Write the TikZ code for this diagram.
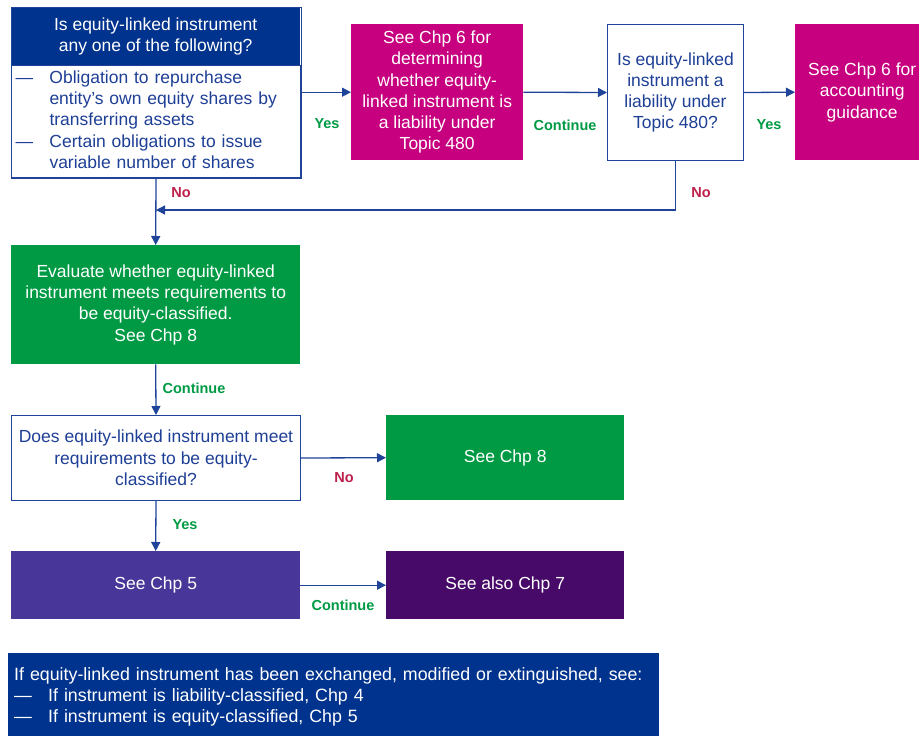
\documentclass[tikz,border=0pt]{standalone}
\usepackage{fontspec}
\setmainfont{Liberation Sans}
\usetikzlibrary{arrows.meta}
\definecolor{kblue}{HTML}{00338D}
\definecolor{ktext}{HTML}{1E3F96}
\definecolor{kline}{HTML}{1E4399}
\definecolor{kmag}{HTML}{C6007E}
\definecolor{kgreen}{HTML}{009A44}
\definecolor{kpurple}{HTML}{483698}
\definecolor{kdpurple}{HTML}{470A68}
\definecolor{kred}{HTML}{BC204B}
\begin{document}
\begin{tikzpicture}[x=1pt,y=-1pt,
  box/.style={rectangle, inner sep=0pt, anchor=north west, align=center,
    font=\fontsize{17.5}{21.3}\selectfont},
  solidbox/.style={box, fill=#1, text=white},
  openbox/.style={box, draw=kline, line width=1pt, fill=white, text=ktext},
  arr/.style={draw=kline, line width=1.3pt, -{Triangle[length=9pt,width=9pt]}},
  lbl/.style={font=\fontsize{14.5}{17}\selectfont\bfseries, inner sep=0pt},
  yes/.style={lbl, text=kgreen},
  no/.style={lbl, text=kred}]
\useasboundingbox (0,0) rectangle (919,736);
\clip (0,0) rectangle (919,736);

% first question: header and list of cases
\node[solidbox=kblue, minimum width=289pt, minimum height=58pt] (q1head) at (11,7)
  {Is equity-linked instrument\\any one of the following?};
\node[openbox, minimum width=289pt, minimum height=112pt, align=left,
  text width=285pt, inner xsep=2pt] (q1) at (11,65)
  {\begin{tabular}{@{}p{36pt}@{}l@{}}
   \hspace*{2pt}— & Obligation to repurchase\\
       & entity’s own equity shares by\\
       & transferring assets\\
   \hspace*{2pt}— & Certain obligations to issue\\
       & variable number of shares
   \end{tabular}};
\draw[kline, line width=1pt] (q1head.north west) rectangle (q1.south east);

% top row
\node[solidbox=kmag, minimum width=172pt, minimum height=136pt] (ch6a) at (351,24)
  {See Chp 6 for\\determining\\whether equity-\\linked instrument is\\a liability under\\Topic 480};
\node[openbox, minimum width=136pt, minimum height=136pt] (q2) at (607,24)
  {Is equity-linked\\instrument a\\liability under\\Topic 480?};
\node[solidbox=kmag, minimum width=134pt, minimum height=136pt] (ch6b) at (795,24)
  {See Chp 6 for\\accounting\\guidance};

% left column
\node[solidbox=kgreen, minimum width=289pt, minimum height=119pt] (eval) at (11,245)
  {Evaluate whether equity-linked\\instrument meets requirements to\\be equity-classified.\\See Chp 8};
\node[openbox, minimum width=289pt, minimum height=85pt] (q3) at (11,415)
  {Does equity-linked instrument meet\\requirements to be equity-\\classified?};
\node[solidbox=kgreen, minimum width=238pt, minimum height=85pt] (ch8) at (386,415)
  {See Chp 8};
\node[solidbox=kpurple, minimum width=289pt, minimum height=68pt] (ch5) at (11,551)
  {See Chp 5};
\node[solidbox=kdpurple, minimum width=238pt, minimum height=68pt] (ch7) at (386,551)
  {See also Chp 7};

% closing note
\node[solidbox=kblue, minimum width=651pt, minimum height=90pt, align=left,
  text width=639pt, inner xsep=6pt, font=\fontsize{17.8}{21.3}\selectfont] (note) at (8,653)
  {\begin{tabular}{@{}p{34pt}@{}l@{}}
   \multicolumn{2}{@{}l@{}}{If equity-linked instrument has been exchanged, modified or extinguished, see:}\\
   — & If instrument is liability-classified, Chp 4\\
   — & If instrument is equity-classified, Chp 5\\[2pt]
   \end{tabular}};

% connectors
\coordinate (merge) at (q1.south |- 0,210);
\draw[arr] (ch6a.west -| q1.east) -- (ch6a.west);
\draw[arr] (ch6a.east) -- (q2.west);
\draw[arr] (q2.east) -- (ch6b.west);
\draw[arr] (q1.south) -- (eval.north);
\draw[arr] (q2.south) |- (merge);
\draw[arr] (eval.south) -- (q3.north);
\draw[arr] (q3.east) -- (ch8.west);
\draw[arr] (q3.south) -- (ch5.north);
\draw[arr] (ch5.east) -- (ch7.west);

% connector labels
\node[yes] (l1) at (327,124) {Yes};
\node[yes] (l2) at (565,125) {Continue};
\node[yes] (l3) at (769,125) {Yes};
\node[no]  (l4) at (181,193) {No};
\node[no]  (l5) at (701,193) {No};
\node[yes] (l6) at (194,388) {Continue};
\node[no]  (l7) at (344,478) {No};
\node[yes] (l8) at (185,525) {Yes};
\node[yes] (l9) at (343,605) {Continue};
\end{tikzpicture}
\end{document}
